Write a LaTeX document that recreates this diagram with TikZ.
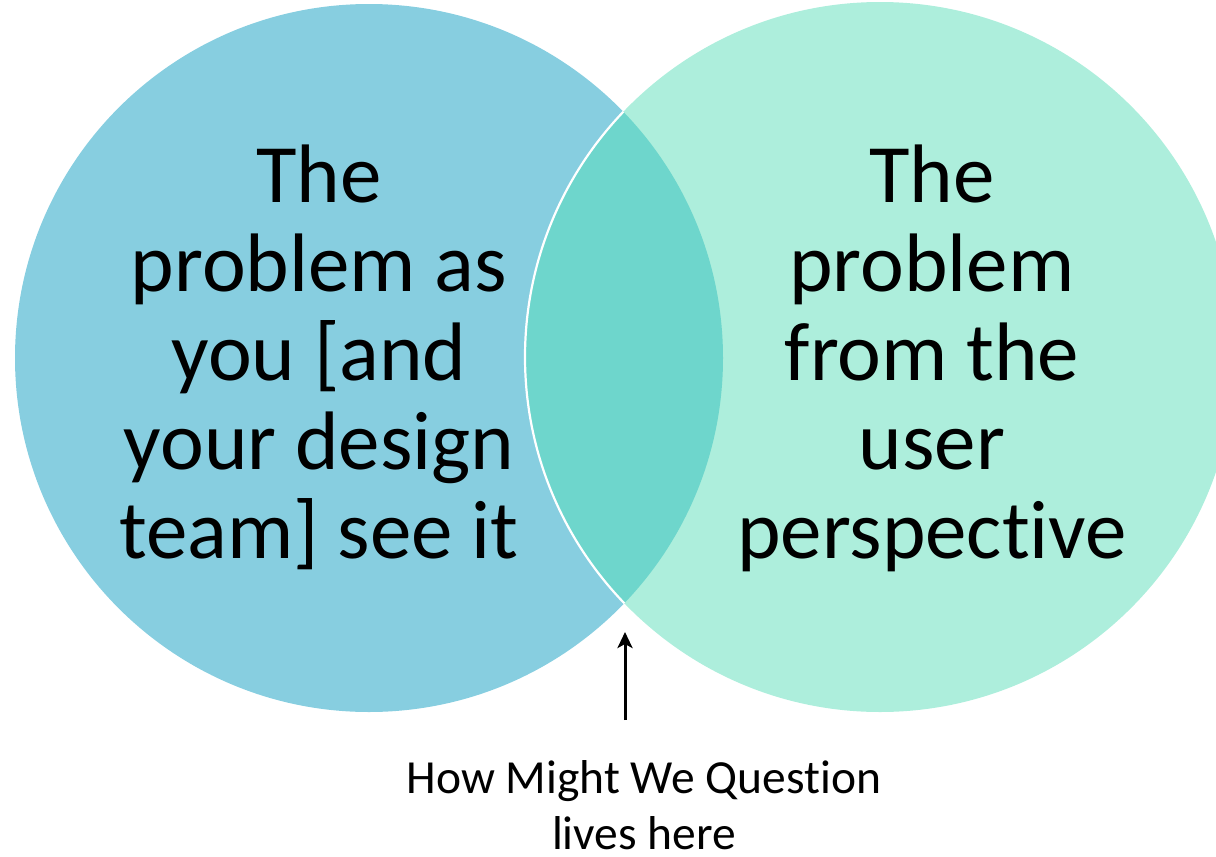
\documentclass[tikz,border=0pt]{standalone}
\usepackage{fontspec}
\setmainfont{Carlito}[Ligatures=NoCommon]
\usetikzlibrary{arrows.meta}
\definecolor{leftc}{RGB}{135,206,224}
\definecolor{rightc}{RGB}{173,238,220}
\definecolor{midc}{RGB}{110,214,204}
\begin{document}
\begin{tikzpicture}[x=1pt,y=-1pt,
  bigtext/.style={align=center,font=\fontsize{83}{89}\selectfont,inner sep=0pt,anchor=base},
  smalltext/.style={align=center,font=\fontsize{47.5}{56}\selectfont,inner sep=0pt,anchor=base}]
\useasboundingbox (0,0) rectangle (1216,857);
\begin{scope}
\clip (0,0) rectangle (1216,857);
\fill[leftc] (369,358) circle[radius=354];
\fill[rightc] (880,357) circle[radius=355];
\begin{scope}
\clip (369,358) circle[radius=354];
\fill[midc] (880,357) circle[radius=355];
\draw[white,line width=2.2pt] (880,357) circle[radius=355];
\end{scope}
\end{scope}
\node[bigtext] (lt) at (319,558) {The\\problem as\\you [and\\your design\\team] see it};
\node[bigtext] (rt) at (932,558) {The\\problem\\from the\\user\\perspective};
\node[smalltext] (q) at (644,849) {How Might We Question\\lives here};
\coordinate (tail) at (625,720);
\coordinate (tip) at (625,632);
\draw[line width=3pt,-{Stealth[length=16pt,width=15pt,inset=4pt]}] (tail) -- (tip);
\end{tikzpicture}
\end{document}
